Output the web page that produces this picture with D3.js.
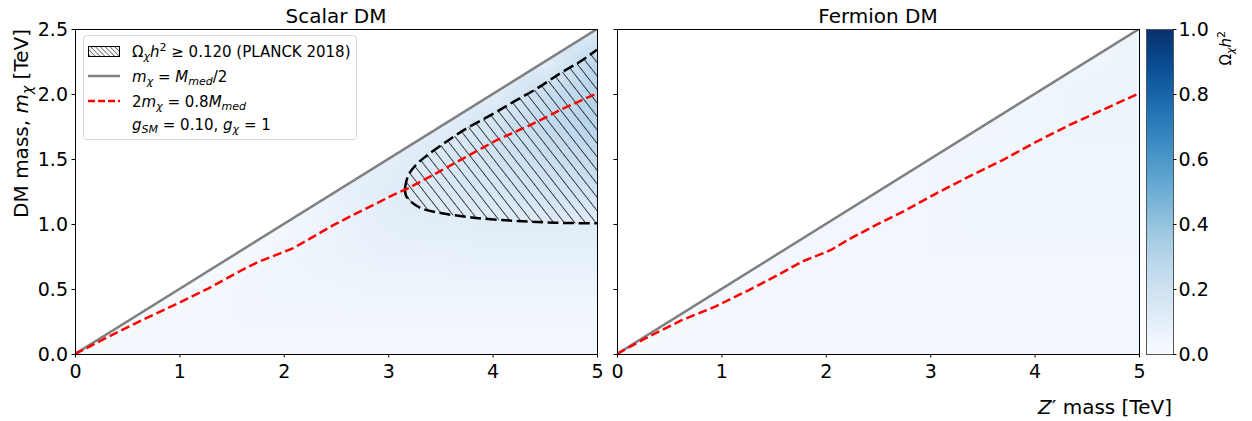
<!DOCTYPE html>
<html>
<head>
<meta charset="utf-8">
<script src="https://cdn.jsdelivr.net/npm/d3@7"></script>
<style>
  body { margin: 0; background: #fff; }
  text { font-family: "DejaVu Sans", sans-serif; fill: #000; }
</style>
</head>
<body>
<svg id="chart" width="1252" height="421"></svg>
<script>
// ---- data ----
var titles = ["Scalar DM", "Fermion DM"];
var xTicks = [0, 1, 2, 3, 4, 5];
var yTicks = [0, 0.5, 1, 1.5, 2, 2.5];
var cbTicks = [0, 0.2, 0.4, 0.6, 0.8, 1.0];

// heat map grid: columns = Z' mass, rows = DM mass (only m <= M/2 is filled)
var gridM = [0, 0.5, 1, 1.5, 2, 2.5, 3, 3.5, 4, 4.5, 5];
var gridm = [0, 0.25, 0.5, 0.75, 1, 1.25, 1.5, 1.75, 2, 2.25, 2.5];
var n = null;
var scalarOmega = [
  [0.01, 0.02, 0.02, 0.02, 0.02, 0.02, 0.02, 0.02, 0.02, 0.02, 0.02],
  [n, 0.01, 0.02, 0.03, 0.03, 0.03, 0.03, 0.03, 0.03, 0.03, 0.03],
  [n, n, 0.01, 0.03, 0.04, 0.04, 0.05, 0.05, 0.05, 0.05, 0.05],
  [n, n, n, 0.01, 0.04, 0.06, 0.07, 0.07, 0.08, 0.08, 0.08],
  [n, n, n, n, 0.02, 0.06, 0.09, 0.10, 0.11, 0.11, 0.11],
  [n, n, n, n, n, 0.07, 0.11, 0.14, 0.16, 0.18, 0.19],
  [n, n, n, n, n, n, 0.09, 0.15, 0.19, 0.22, 0.25],
  [n, n, n, n, n, n, n, 0.10, 0.19, 0.25, 0.29],
  [n, n, n, n, n, n, n, n, 0.10, 0.23, 0.30],
  [n, n, n, n, n, n, n, n, n, 0.10, 0.28],
  [n, n, n, n, n, n, n, n, n, n, 0.12]
];
var fermionOmega = [
  [0.01, 0.02, 0.02, 0.02, 0.02, 0.02, 0.02, 0.02, 0.02, 0.02, 0.02],
  [n, 0.01, 0.02, 0.02, 0.02, 0.02, 0.02, 0.02, 0.02, 0.02, 0.02],
  [n, n, 0.02, 0.02, 0.03, 0.03, 0.03, 0.03, 0.03, 0.03, 0.03],
  [n, n, n, 0.02, 0.03, 0.03, 0.03, 0.03, 0.03, 0.03, 0.03],
  [n, n, n, n, 0.02, 0.03, 0.03, 0.04, 0.04, 0.04, 0.04],
  [n, n, n, n, n, 0.03, 0.03, 0.04, 0.04, 0.04, 0.04],
  [n, n, n, n, n, n, 0.03, 0.04, 0.04, 0.04, 0.04],
  [n, n, n, n, n, n, n, 0.03, 0.04, 0.05, 0.05],
  [n, n, n, n, n, n, n, n, 0.04, 0.05, 0.05],
  [n, n, n, n, n, n, n, n, n, 0.04, 0.05],
  [n, n, n, n, n, n, n, n, n, n, 0.05]
];

// m_chi = M_med / 2
var diagM = [0, 5];
var diagm = [0, 2.5];

// 2 m_chi = 0.8 M_med (red dashed)
var scalarRedM = [0, 0.32, 0.64, 0.96, 1.28, 1.6, 1.76, 2.08, 2.31, 2.47, 2.76, 3.08, 3.18, 3.4, 3.72, 4.04, 4.36, 4.68, 5.0];
var scalarRedm = [0, 0.133, 0.26, 0.38, 0.505, 0.646, 0.71, 0.81, 0.915, 0.99, 1.108, 1.236, 1.27, 1.364, 1.505, 1.646, 1.76, 1.89, 2.005];
var fermionRedM = [0, 0.3, 0.62, 0.94, 1.03, 1.26, 1.57, 1.77, 2.05, 2.21, 2.45, 2.74, 3.06, 3.37, 3.69, 4.01, 4.33, 4.65, 5.0];
var fermionRedm = [0, 0.133, 0.26, 0.364, 0.4, 0.49, 0.62, 0.71, 0.8, 0.877, 0.98, 1.095, 1.236, 1.364, 1.49, 1.63, 1.76, 1.877, 2.005];

// Omega h^2 = 0.120 contour (scalar panel)
var contourUpperM = [3.16, 3.19, 3.26, 3.36, 3.56, 3.76, 4.0, 4.2, 4.42, 4.65, 4.84, 5.0];
var contourUpperm = [1.275, 1.37, 1.45, 1.52, 1.635, 1.74, 1.845, 1.94, 2.04, 2.16, 2.25, 2.34];
var contourLowerM = [3.16, 3.17, 3.22, 3.32, 3.5, 3.8, 4.2, 4.6, 5.0];
var contourLowerm = [1.275, 1.22, 1.17, 1.12, 1.085, 1.05, 1.025, 1.01, 1.005];

// ---- layout ----
var svg = d3.select("#chart");
var top_ = 29, bottom = 354;
var panels = [
  {x0: 75, x1: 597, title: titles[0], grid: scalarOmega, redM: scalarRedM, redm: scalarRedm, labels: true},
  {x0: 617, x1: 1139, title: titles[1], grid: fermionOmega, redM: fermionRedM, redm: fermionRedm, labels: false}
];
var color = d3.scaleSequential(d3.interpolateBlues).domain([0, 1]);
var y = d3.scaleLinear().domain([0, 2.5]).range([bottom, top_]);

var defs = svg.append("defs");
defs.append("pattern")
    .attr("id", "hatch")
    .attr("patternUnits", "userSpaceOnUse")
    .attr("width", 8.3).attr("height", 8.3)
    .attr("patternTransform", "rotate(-38)")
  .append("line")
    .attr("x1", 0).attr("y1", -1).attr("x2", 0).attr("y2", 10)
    .attr("stroke", "#000").attr("stroke-width", 1.4);
defs.append("pattern")
    .attr("id", "hatchLegend")
    .attr("patternUnits", "userSpaceOnUse")
    .attr("width", 3.4).attr("height", 3.4)
    .attr("patternTransform", "rotate(-45)")
  .append("line")
    .attr("x1", 0).attr("y1", -1).attr("x2", 0).attr("y2", 5)
    .attr("stroke", "#000").attr("stroke-width", 1);

function heatImage(grid) {
  var c = document.createElement("canvas");
  c.width = gridM.length; c.height = gridm.length;
  var ctx = c.getContext("2d");
  var img = ctx.createImageData(c.width, c.height);
  gridm.forEach(function(m, i) {
    gridM.forEach(function(M, j) {
      var v = grid[i][j];
      if (v === null) v = grid[j][j];   // outside triangle: clipped anyway
      var col = d3.rgb(color(v));
      var k = ((gridm.length - 1 - i) * c.width + j) * 4;
      img.data[k] = col.r; img.data[k + 1] = col.g; img.data[k + 2] = col.b; img.data[k + 3] = 255;
    });
  });
  ctx.putImageData(img, 0, 0);
  return c.toDataURL();
}

panels.forEach(function(p, pi) {
  var x = d3.scaleLinear().domain([0, 5]).range([p.x0, p.x1]);
  var g = svg.append("g");

  // clip: triangle below m = M/2, inside axes
  defs.append("clipPath").attr("id", "tri" + pi)
    .append("polygon")
    .attr("points", [[diagM[0], diagm[0]], [diagM[1], 0], [diagM[1], diagm[1]]]
      .map(function(d) { return x(d[0]) + "," + y(d[1]); }).join(" "));
  defs.append("clipPath").attr("id", "ax" + pi)
    .append("rect")
    .attr("x", p.x0).attr("y", top_).attr("width", p.x1 - p.x0).attr("height", bottom - top_);

  var dM = (gridM[1] - gridM[0]) / 2, dm = (gridm[1] - gridm[0]) / 2;
  g.append("image")
    .attr("clip-path", "url(#tri" + pi + ")")
    .attr("preserveAspectRatio", "none")
    .attr("x", x(gridM[0] - dM))
    .attr("y", y(gridm[gridm.length - 1] + dm))
    .attr("width", x(gridM[gridM.length - 1] + dM) - x(gridM[0] - dM))
    .attr("height", y(gridm[0] - dm) - y(gridm[gridm.length - 1] + dm))
    .attr("href", heatImage(p.grid));

  var inner = g.append("g").attr("clip-path", "url(#ax" + pi + ")");
  var line = d3.line().x(function(d) { return x(d[0]); }).y(function(d) { return y(d[1]); });

  if (pi === 0) {
    var upper = contourUpperM.map(function(d, i) { return [d, contourUpperm[i]]; });
    var lower = contourLowerM.map(function(d, i) { return [d, contourLowerm[i]]; });
    var smooth = d3.line().curve(d3.curveCatmullRom)
      .x(function(d) { return x(d[0]); }).y(function(d) { return y(d[1]); });
    var ring = lower.slice().reverse().concat(upper.slice(1));
    inner.append("path")
      .attr("d", smooth(ring) + "Z")
      .attr("fill", "url(#hatch)");
    [upper, lower].forEach(function(c) {
      inner.append("path")
        .attr("d", smooth(c))
        .attr("fill", "none")
        .attr("stroke", "#000")
        .attr("stroke-width", 2.5)
        .attr("stroke-dasharray", "11,4.5");
    });
  }

  inner.append("path")
    .attr("d", line(diagM.map(function(d, i) { return [d, diagm[i]]; })))
    .attr("fill", "none").attr("stroke", "#808080").attr("stroke-width", 2.5);

  inner.append("path")
    .attr("d", line(p.redM.map(function(d, i) { return [d, p.redm[i]]; })))
    .attr("fill", "none").attr("stroke", "#ff0000").attr("stroke-width", 2.5)
    .attr("stroke-dasharray", "9,4");

  // spines
  g.append("rect")
    .attr("x", p.x0).attr("y", top_).attr("width", p.x1 - p.x0).attr("height", bottom - top_)
    .attr("fill", "none").attr("stroke", "#000").attr("stroke-width", 1)
    .attr("shape-rendering", "crispEdges");

  // axes
  var gx = g.append("g").attr("transform", "translate(0," + bottom + ")")
    .call(d3.axisBottom(x).tickValues(xTicks).tickFormat(d3.format("d")).tickSize(3.5).tickPadding(7));
  var gy = g.append("g").attr("transform", "translate(" + p.x0 + ",0)")
    .call(d3.axisLeft(y).tickValues(yTicks).tickFormat(p.labels ? d3.format(".1f") : "").tickSize(3.5).tickPadding(3.5));
  [gx, gy].forEach(function(a) {
    a.select(".domain").remove();
    a.selectAll("text").style("font-family", "DejaVu Sans").style("font-size", "19px").attr("fill", "#000");
    a.selectAll("line").attr("stroke", "#000");
  });

  g.append("text")
    .attr("x", (p.x0 + p.x1) / 2).attr("y", 23)
    .attr("text-anchor", "middle").style("font-size", "20px")
    .text(p.title);
});

// y axis label
var yl = svg.append("text")
  .attr("transform", "translate(28,29) rotate(-90)")
  .attr("text-anchor", "end").style("font-size", "20px");
yl.append("tspan").text("DM mass, ");
yl.append("tspan").style("font-style", "italic").text("m");
yl.append("tspan").attr("dy", 4).style("font-size", "14px").style("font-style", "italic").text("χ");
yl.append("tspan").attr("dy", -4).text(" [TeV]");

// x axis label
var xl = svg.append("text")
  .attr("x", 1172).attr("y", 414)
  .attr("text-anchor", "end").style("font-size", "20px");
xl.append("tspan").style("font-style", "italic").text("Z");
xl.append("tspan").text("′ mass [TeV]");

// colorbar
var cb = {x0: 1146, x1: 1173};
var grad = defs.append("linearGradient").attr("id", "cbgrad")
  .attr("x1", 0).attr("y1", 1).attr("x2", 0).attr("y2", 0);
d3.range(0, 1.0001, 0.05).forEach(function(t) {
  grad.append("stop").attr("offset", t).attr("stop-color", color(t));
});
svg.append("rect")
  .attr("x", cb.x0).attr("y", top_).attr("width", cb.x1 - cb.x0).attr("height", bottom - top_)
  .attr("fill", "url(#cbgrad)").attr("stroke", "#555").attr("stroke-width", 1)
  .attr("shape-rendering", "crispEdges");
var cbScale = d3.scaleLinear().domain([0, 1]).range([bottom, top_]);
var gcb = svg.append("g").attr("transform", "translate(" + cb.x1 + ",0)")
  .call(d3.axisRight(cbScale).tickValues(cbTicks).tickFormat(d3.format(".1f")).tickSize(3.5).tickPadding(2));
gcb.select(".domain").remove();
gcb.selectAll("text").style("font-family", "DejaVu Sans").style("font-size", "19px").attr("fill", "#000");
gcb.selectAll("line").attr("stroke", "#000");

var cl = svg.append("text")
  .attr("transform", "translate(1231,31) rotate(-90)")
  .attr("text-anchor", "end").style("font-size", "15px");
cl.append("tspan").text("Ω");
cl.append("tspan").attr("dy", 3).style("font-size", "11px").style("font-style", "italic").text("χ");
cl.append("tspan").attr("dy", -3).style("font-style", "italic").text("h");
cl.append("tspan").attr("dy", -6).style("font-size", "11px").text("2");

// legend
var lg = svg.append("g");
lg.append("rect")
  .attr("x", 83.5).attr("y", 35.5).attr("width", 273).attr("height", 104).attr("rx", 3)
  .attr("fill", "#fff").attr("fill-opacity", 0.9).attr("stroke", "#d8d8d8").attr("stroke-width", 1);
lg.append("rect")
  .attr("x", 88.5).attr("y", 46.5).attr("width", 31).attr("height", 10)
  .attr("fill", "url(#hatchLegend)").attr("stroke", "#000").attr("stroke-width", 1);
lg.append("line").attr("x1", 88).attr("x2", 120).attr("y1", 76).attr("y2", 76)
  .attr("stroke", "#808080").attr("stroke-width", 2.5);
lg.append("line").attr("x1", 88).attr("x2", 120).attr("y1", 101).attr("y2", 101)
  .attr("stroke", "#ff0000").attr("stroke-width", 2.5).attr("stroke-dasharray", "7,3");

var tx = 132;
var t1 = lg.append("text").attr("x", tx).attr("y", 57).style("font-size", "15px");
t1.append("tspan").text("Ω");
t1.append("tspan").attr("dy", 3).style("font-size", "11px").style("font-style", "italic").text("χ");
t1.append("tspan").attr("dy", -3).style("font-style", "italic").text("h");
t1.append("tspan").attr("dy", -6).style("font-size", "11px").text("2");
t1.append("tspan").attr("dy", 6).text(" ≥ 0.120 (PLANCK 2018)");

var t2 = lg.append("text").attr("x", tx).attr("y", 82).style("font-size", "15px");
t2.append("tspan").style("font-style", "italic").text("m");
t2.append("tspan").attr("dy", 3).style("font-size", "11px").style("font-style", "italic").text("χ");
t2.append("tspan").attr("dy", -3).text(" = ");
t2.append("tspan").style("font-style", "italic").text("M");
t2.append("tspan").attr("dy", 3).style("font-size", "11px").style("font-style", "italic").text("med");
t2.append("tspan").attr("dy", -3).text("/2");

var t3 = lg.append("text").attr("x", tx).attr("y", 107).style("font-size", "15px");
t3.append("tspan").text("2");
t3.append("tspan").style("font-style", "italic").text("m");
t3.append("tspan").attr("dy", 3).style("font-size", "11px").style("font-style", "italic").text("χ");
t3.append("tspan").attr("dy", -3).text(" = 0.8");
t3.append("tspan").style("font-style", "italic").text("M");
t3.append("tspan").attr("dy", 3).style("font-size", "11px").style("font-style", "italic").text("med");

var t4 = lg.append("text").attr("x", tx).attr("y", 130).style("font-size", "15px");
t4.append("tspan").style("font-style", "italic").text("g");
t4.append("tspan").attr("dy", 3).style("font-size", "11px").style("font-style", "italic").text("SM");
t4.append("tspan").attr("dy", -3).text(" = 0.10, ");
t4.append("tspan").style("font-style", "italic").text("g");
t4.append("tspan").attr("dy", 3).style("font-size", "11px").style("font-style", "italic").text("χ");
t4.append("tspan").attr("dy", -3).text(" = 1");
</script>
</body>
</html>
